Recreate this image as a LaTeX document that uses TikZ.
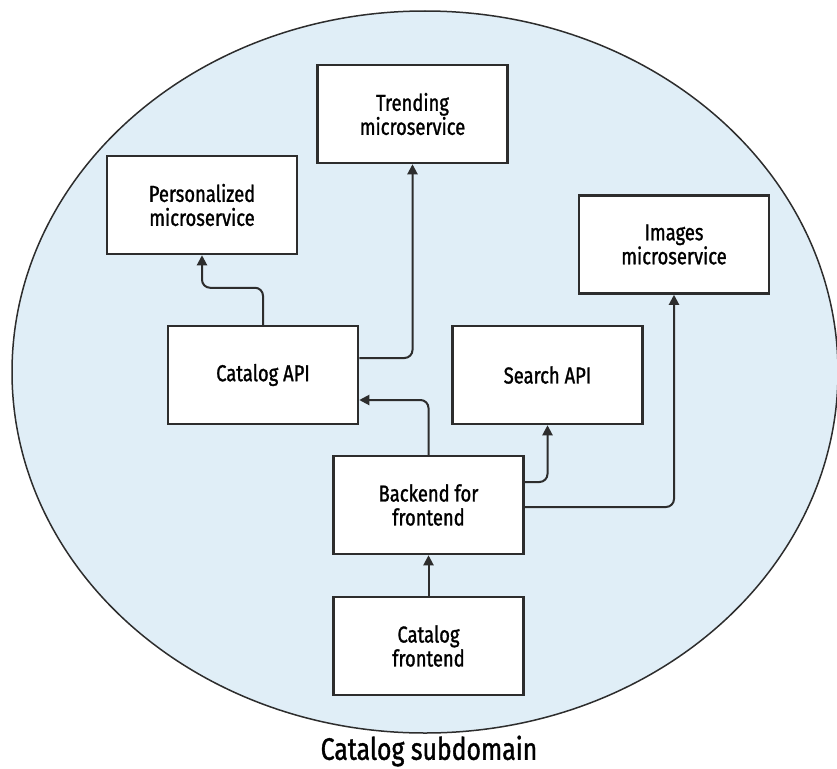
\documentclass[tikz,border=0pt]{standalone}
\usepackage{fontspec}
\setmainfont{Fira Sans}[FakeStretch=0.8, FakeBold=1.2]
\usetikzlibrary{arrows.meta}
\definecolor{domainblue}{RGB}{224,238,247}
\definecolor{boxline}{RGB}{45,45,45}
\tikzset{
  svcbox/.style={draw=boxline, fill=white, line width=2.5pt, minimum width=190pt,
    minimum height=98pt, align=center, font=\fontsize{23}{24}\selectfont},
  calls/.style={draw=boxline, line width=2pt, rounded corners=8pt,
    -{Triangle[width=10pt,length=10pt]}}
}
\begin{document}
\begin{tikzpicture}[x=1pt,y=-1pt]
      \useasboundingbox (0,0) rectangle (837,768);
      \fill[domainblue, draw=boxline, line width=1.5pt] (425,372) ellipse [x radius=413, y radius=361];

      \foreach \n/\x/\y/\t in {trending/412.5/114/{Trending\\microservice},
                               personal/202/205/{Personalized\\microservice},
                               images/674/244.5/{Images\\microservice},
                               catapi/263/375/{Catalog API},
                               search/547.5/375/{Search API},
                               bff/428.5/505/{Backend for\\frontend},
                               frontend/428.5/646/{Catalog\\frontend}} {
          \node[svcbox] (\n) at (\x,\y) {\t};
        }

      \draw[calls] (catapi.north) -- ++(0,-37) -| (personal.south);
      \draw[calls] ([yshift=17pt]catapi.east) -| (trending.south);
      \draw[calls] (bff.north) |- ([yshift=-25pt]catapi.east);
      \draw[calls] ([yshift=23pt]bff.east) -| (search.south);
      \draw[calls] ([yshift=-2pt]bff.east) -| (images.south);
      \draw[calls] (frontend.north) -- (bff.south);

      \node[font=\fontsize{31}{34}\selectfont] (domain) at (429,751) {Catalog subdomain};
    \end{tikzpicture}
\end{document}
